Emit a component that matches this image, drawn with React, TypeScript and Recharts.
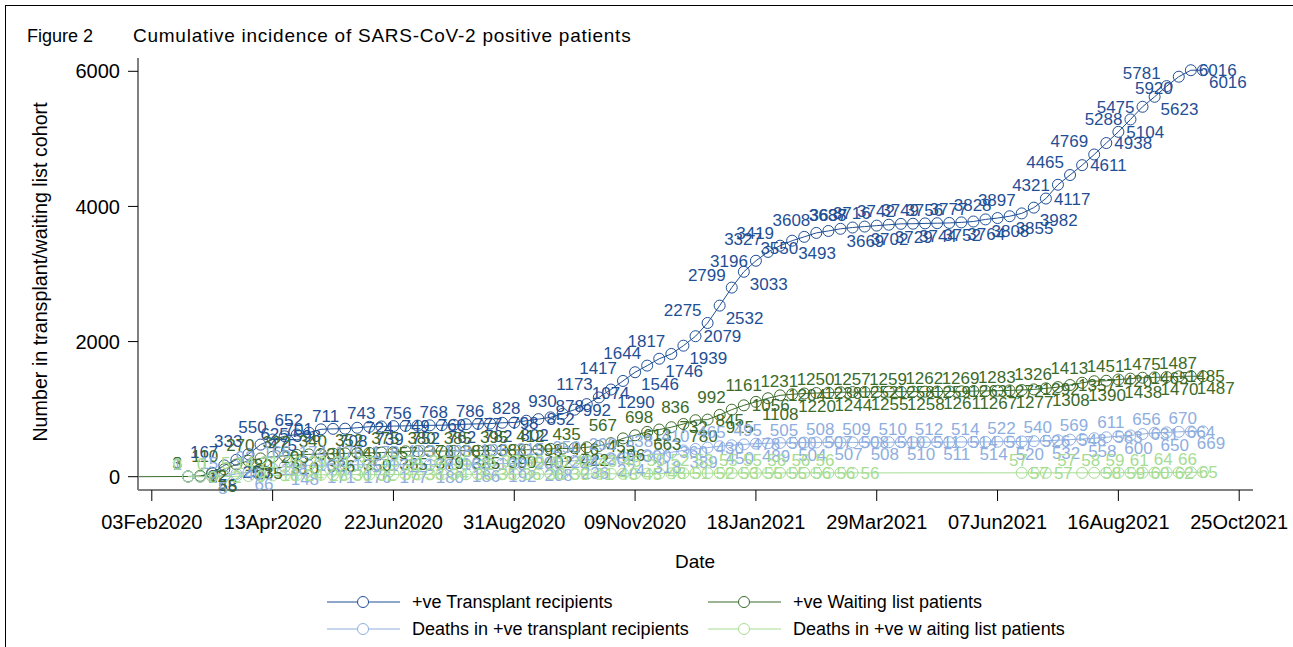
import React from 'react';
import { ComposedChart, Line, XAxis, YAxis, LabelList } from 'recharts';

// x values are days after 03Feb2020; weekly observations start 24Feb2020
const FIRST_DAY = 21;
const LEAD_DAY = -8; // waiting-list line is drawn from the y axis

const transplant = [
  3, 3, 58, 167, 250, 333, 475, 550, 598, 625, 652, 701, 708, 711, 724, 739, 743, 749, 752, 756,
  760, 762, 768, 777, 782, 786, 798, 802, 828, 852, 878, 930, 992, 1074, 1173, 1290, 1417, 1546, 1644, 1746,
  1817, 1939, 2079, 2275, 2532, 2799, 3033, 3196, 3327, 3419, 3493, 3550, 3608, 3637, 3669, 3688, 3702, 3716, 3729, 3742,
  3744, 3749, 3752, 3756, 3764, 3777, 3808, 3828, 3855, 3897, 3982, 4117, 4321, 4465, 4611, 4769, 4938, 5104, 5288, 5475,
  5623, 5781, 5920, 6016, 6016,
];

const waiting = [
  3, 12, 45, 110, 180, 235, 270, 295, 310, 322, 330, 336, 340, 345, 350, 352, 357, 365, 375, 378,
  379, 380, 383, 385, 385, 388, 390, 395, 398, 402, 412, 416, 422, 435, 455, 496, 567, 613, 663, 698,
  732, 780, 836, 845, 915, 992, 1056, 1108, 1161, 1204, 1220, 1231, 1238, 1244, 1250, 1252, 1255, 1257, 1258, 1258,
  1259, 1259, 1261, 1262, 1263, 1267, 1269, 1272, 1277, 1283, 1292, 1308, 1326, 1357, 1390, 1413, 1420, 1438, 1451, 1465,
  1470, 1475, 1485, 1487, 1487,
];

const transplantDeaths = [
  1, 2, 5, 15, 40, 66, 92, 118, 148, 166, 168, 171, 174, 175, 176, 176, 177, 177, 178, 178,
  180, 183, 183, 186, 188, 190, 192, 196, 200, 208, 215, 224, 236, 250, 262, 274, 290, 300, 318, 338,
  360, 389, 410, 430, 450, 465, 478, 489, 495, 500, 504, 505, 507, 507, 508, 508, 508, 509, 510, 510,
  510, 511, 511, 512, 514, 514, 514, 517, 520, 522, 526, 532, 540, 548, 558, 569, 583, 600, 611, 631,
  650, 656, 664, 669, 670,
];

// null = no observation that week
const waitingDeaths = [
  0, 0, 0, 2, 5, 9, 14, 18, 21, 24, 26, 28, 29, 30, 31, 32, 32, 33, 33, 33,
  34, 34, 34, 35, 35, 35, 36, 36, 37, 38, 39, 39, 40, 41, 42, 43, 43, 45, 46, 48,
  50, 51, 52, 52, 53, 53, 55, 55, 55, 55, 56, 56, 56, 56, 56, 56,
  null, null, null, null, null, null, null, null, null, null, null, null, null,
  57, 57, 57, null, null,
  57, 58, 58, 59, 59, 60, 61, 62, 64, 65, 66,
];

// marker-label clock positions for the transplant series (as in the original figure)
const transplantLabelPos = [
  10, 3, 4, 10, 4, 10, 3, 10, 3, 9, 10, 9, 4, 10, 3, 4, 10, 3, 4, 10,
  3, 4, 10, 3, 4, 10, 3, 4, 10, 3, 2, 10, 3, 2, 10, 4,
  10, 4, 10, 4, 10, 4, 3, 10, 4, 10, 4, 9, 10, 10, 4, 8, 10, 12,
  4, 10, 4, 10, 4, 10, 4, 10, 4, 10, 4, 10, 4, 10,
  4, 10, 4, 3, 9, 10, 3, 10, 3, 3, 9, 9, 4, 10, 8, 3, 4,
];
// repeating label positions for the other series
const cycle3 = [10, 3, 4];
const cycle2 = [10, 3];

const tickDays = [0, 70, 140, 210, 280, 350, 420, 490, 560, 630];
const tickLabels = [
  '03Feb2020', '13Apr2020', '22Jun2020', '31Aug2020', '09Nov2020',
  '18Jan2021', '29Mar2021', '07Jun2021', '16Aug2021', '25Oct2021',
];
const yTicks = [0, 2000, 4000, 6000];

const COLORS = {
  transplant: '#1f4f95',
  waiting: '#3b6b2a',
  tDeaths: '#8eaee0',
  wDeaths: '#a6dd92',
};

const FONT = '"Liberation Sans", Arial, Helvetica, sans-serif';

const data = [
  { day: LEAD_DAY, waiting: 0 },
  ...transplant.map((v, i) => ({
    day: FIRST_DAY + 7 * i,
    transplant: v,
    waiting: waiting[i],
    tDeaths: transplantDeaths[i],
    wDeaths: waitingDeaths[i],
  })),
];

// offsets (dx, baseline dy, anchor) for each clock position
const CLOCK: Record<string, [number, number, 'start' | 'end' | 'middle']> = {
  2: [5, -5, 'start'],
  3: [8, 6, 'start'],
  4: [6, 18, 'start'],
  8: [-6, 17, 'end'],
  9: [-8, 6, 'end'],
  10: [-6, -7, 'end'],
  12: [0, -10, 'middle'],
};

// hollow circle markers, none for the lead-in point
const makeDot = (color: string) => (props: any) => {
  const { cx, cy, payload, value, index } = props;
  if (value == null || cx == null || cy == null || payload.day < 0) {
    return <g key={`d-${index}`} />;
  }
  return <circle key={`d-${index}`} cx={cx} cy={cy} r={5.5} fill="none" stroke={color} strokeWidth={1} />;
};

const makeLabel = (color: string, positions: number[], repeat: boolean) => (props: any) => {
  const { x, y, value, index } = props;
  if (value == null || x == null || y == null || index === 0) return null;
  const i = index - 1;
  const pos = repeat ? positions[i % positions.length] : positions[i];
  const [dx, dy, anchor] = CLOCK[String(pos)] ?? CLOCK['3'];
  return (
    <text x={x + dx} y={y + dy} textAnchor={anchor} fill={color} style={{ fontSize: 17, fontFamily: FONT }}>
      {value}
    </text>
  );
};

const legendItems = [
  { label: '+ve Transplant recipients', color: COLORS.transplant, left: 327, top: 602 },
  { label: '+ve Waiting list patients', color: COLORS.waiting, left: 708, top: 602 },
  { label: 'Deaths in +ve transplant recipients', color: COLORS.tDeaths, left: 327, top: 629 },
  { label: 'Deaths in +ve w aiting list patients', color: COLORS.wDeaths, left: 708, top: 629 },
];

export default function App() {
  const series = [
    { key: 'transplant', color: COLORS.transplant, nulls: false, pos: transplantLabelPos, repeat: false },
    { key: 'waiting', color: COLORS.waiting, nulls: false, pos: cycle3, repeat: true },
    { key: 'tDeaths', color: COLORS.tDeaths, nulls: false, pos: cycle3, repeat: true },
    { key: 'wDeaths', color: COLORS.wDeaths, nulls: true, pos: cycle2, repeat: true },
  ];

  return (
    <div
      style={{
        position: 'absolute',
        left: 0,
        top: 0,
        width: 1293,
        height: 647,
        background: '#fff',
        fontFamily: FONT,
        overflow: 'hidden',
      }}
    >
      {/* frame */}
      <div
        style={{
          position: 'absolute',
          left: 5,
          top: 5,
          width: 1300,
          height: 700,
          borderTop: '1px solid #000',
          borderLeft: '1px solid #000',
        }}
      />
      <div style={{ position: 'absolute', left: 27, top: 26, fontSize: 18, color: '#000', whiteSpace: 'nowrap' }}>
        Figure 2
      </div>
      <div
        style={{
          position: 'absolute',
          left: 133,
          top: 25,
          fontSize: 19,
          letterSpacing: 0.75,
          color: '#000',
          whiteSpace: 'nowrap',
        }}
      >
        Cumulative incidence of SARS-CoV-2 positive patients
      </div>
      <div
        style={{
          position: 'absolute',
          left: 40,
          top: 272,
          transform: 'translate(-50%, -50%) rotate(-90deg)',
          fontSize: 19.7,
          whiteSpace: 'nowrap',
          color: '#000',
        }}
      >
        Number in transplant/waiting list cohort
      </div>
      <div
        style={{
          position: 'absolute',
          left: 695,
          top: 562,
          transform: 'translate(-50%, -50%)',
          fontSize: 19,
          color: '#000',
        }}
      >
        Date
      </div>

      <div style={{ position: 'absolute', left: 0, top: 0 }}>
        <ComposedChart
          width={1293}
          height={647}
          data={data}
          margin={{ top: 58, right: 40, bottom: 87, left: 0 }}
        >
          <XAxis
            dataKey="day"
            type="number"
            domain={[LEAD_DAY, 638]}
            ticks={tickDays}
            tickFormatter={(d: number) => tickLabels[tickDays.indexOf(d)] ?? ''}
            height={70}
            tickSize={11}
            tickMargin={14}
            axisLine={{ stroke: '#808080', strokeWidth: 2 }}
            tickLine={{ stroke: '#000', strokeWidth: 1 }}
            tick={{ fill: '#000', fontSize: 20, fontFamily: FONT }}
            interval={0}
          />
          <YAxis
            type="number"
            domain={[-197, 6197]}
            ticks={yTicks}
            width={138}
            tickSize={10}
            tickMargin={8}
            axisLine={{ stroke: '#808080', strokeWidth: 2 }}
            tickLine={{ stroke: '#000', strokeWidth: 1 }}
            tick={{ fill: '#000', fontSize: 20, fontFamily: FONT }}
            allowDataOverflow
          />
          {series.map((s) => (
            <Line
              key={s.key}
              dataKey={s.key}
              type="linear"
              stroke={s.color}
              strokeWidth={1}
              dot={makeDot(s.color)}
              activeDot={false}
              connectNulls={s.nulls}
              isAnimationActive={false}
            >
              <LabelList dataKey={s.key} content={makeLabel(s.color, s.pos, s.repeat)} />
            </Line>
          ))}
        </ComposedChart>
      </div>

      {legendItems.map((item) => (
        <div key={item.label} style={{ position: 'absolute', left: item.left, top: item.top - 11, height: 22 }}>
          <svg width={75} height={22} style={{ position: 'absolute', left: 0, top: 0 }}>
            <line x1={0} y1={11} x2={73} y2={11} stroke={item.color} strokeWidth={1} />
            <circle cx={36} cy={11} r={5.5} fill="#fff" stroke={item.color} strokeWidth={1} />
          </svg>
          <div
            style={{
              position: 'absolute',
              left: 85,
              top: 0,
              lineHeight: '22px',
              fontSize: 18,
              whiteSpace: 'nowrap',
              color: '#000',
            }}
          >
            {item.label}
          </div>
        </div>
      ))}
    </div>
  );
}
